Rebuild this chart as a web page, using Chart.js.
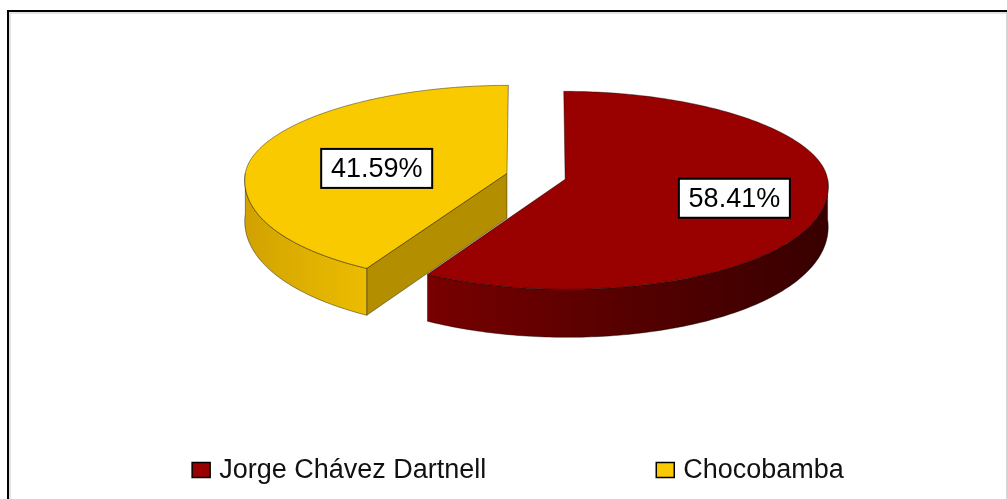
<!DOCTYPE html>
<html>
<head>
<meta charset="utf-8">
<script src="https://cdn.jsdelivr.net/npm/chart.js@4.4.0/dist/chart.umd.min.js"></script>
<style>
  html, body { margin: 0; padding: 0; background: #fff; }
  #wrap { width: 1007px; height: 499px; }
</style>
</head>
<body>
<div id="wrap"><canvas id="grafico" width="1007" height="499"></canvas></div>
<script>
const localidades = ['Jorge Chávez Dartnell', 'Chocobamba'];
const porcentajes = [58.41, 41.59];
const etiquetas = ['58.41%', '41.59%'];

// colores de cada tajada: cara superior, lado curvo, corte radial
const coresTopo = ['#990000', '#FACA00'];
const coresLado = [['#780000', '#560000', '#380000'], ['#d1a200', '#dfb000', '#ebbc00']];
const coresCorte = ['#5a0000', '#b38f00'];

// geometria del pastel 3D: mitad de atras mas chata que la de adelante (perspectiva)
const RX = 262, RY_ATRAS = 88, RY_FRENTE = 110, EXPLOSAO = 0.115, PERSP = 0.06;
const PROF_LADO = 40, PROF_FRENTE = 48, PROF_CENTRO = 45;
const raioEtiqueta = [0.66, 0.52];
const ajusteEtiquetaY = [0, 7];
const FONTE = '"Liberation Sans", Arial, sans-serif';

function ry(ang) { return Math.sin(ang) < 0 ? RY_ATRAS : RY_FRENTE; }
function prof(ang) { return PROF_LADO + (PROF_FRENTE - PROF_LADO) * Math.max(0, Math.sin(ang)); }

// punto de la tajada f, angulo ang, fraccion de radio r, hundido z
function ponto(f, ang, r, z) {
  const x0 = f.c.x + RX * r * Math.cos(ang);
  const y0 = f.c.y + ry(ang) * r * Math.sin(ang);
  const v = (y0 - f.arc.y) / RY_FRENTE;
  return [f.arc.x + (x0 - f.arc.x) * (1 + PERSP * v), y0 + (z || 0)];
}
function curva(ctx, f, a0, a1, fundo) {
  const n = Math.max(8, Math.ceil(Math.abs(a1 - a0) * 60));
  for (let t = 0; t <= n; t++) {
    const a = a0 + (a1 - a0) * t / n;
    const p = ponto(f, a, 1, fundo ? prof(a) : 0);
    ctx.lineTo(p[0], p[1]);
  }
}

function fatias(chart) {
  const meta = chart.getDatasetMeta(0);
  return meta.data.map((arc, i) => {
    const meio = (arc.startAngle + arc.endAngle) / 2;
    return {
      arc, i, meio,
      c: { x: arc.x + RX * EXPLOSAO * Math.cos(meio), y: arc.y + ry(meio) * EXPLOSAO * Math.sin(meio) }
    };
  });
}

function desenharLados(ctx, f) {
  const s = f.arc.startAngle, e = f.arc.endAngle;
  ctx.lineWidth = 0.8;
  ctx.strokeStyle = 'rgba(0,0,0,0.5)';
  ctx.lineJoin = 'round';

  // cortes radiales visibles
  [[s, s - Math.PI / 2], [e, e + Math.PI / 2]].forEach(([a, n]) => {
    if (Math.sin(n) < 0.05) return;
    const c0 = ponto(f, a, 0, 0), p = ponto(f, a, 1, 0);
    const p1 = ponto(f, a, 1, prof(a)), c1 = ponto(f, a, 0, PROF_CENTRO);
    ctx.beginPath();
    ctx.moveTo(c0[0], c0[1]);
    ctx.lineTo(p[0], p[1]);
    ctx.lineTo(p1[0], p1[1]);
    ctx.lineTo(c1[0], c1[1]);
    ctx.closePath();
    ctx.fillStyle = coresCorte[f.i];
    ctx.fill();
    ctx.stroke();
  });

  // lado curvo (solo la parte de adelante)
  [-2 * Math.PI, 0, 2 * Math.PI].forEach(k => {
    const a0 = Math.max(s, k), a1 = Math.min(e, k + Math.PI);
    if (a1 <= a0) return;
    const xs = [];
    for (let t = 0; t <= 40; t++) xs.push(ponto(f, a0 + (a1 - a0) * t / 40, 1, 0)[0]);
    const g = ctx.createLinearGradient(Math.min(...xs), 0, Math.max(...xs), 0);
    const st = coresLado[f.i];
    st.forEach((cor, j) => g.addColorStop(j / (st.length - 1), cor));
    ctx.beginPath();
    curva(ctx, f, a0, a1, false);
    curva(ctx, f, a1, a0, true);
    ctx.closePath();
    ctx.fillStyle = g;
    ctx.fill();
    ctx.stroke();
  });
}

function desenharTopo(ctx, f) {
  const arc = f.arc;
  const c0 = ponto(f, arc.startAngle, 0, 0);
  ctx.beginPath();
  ctx.moveTo(c0[0], c0[1]);
  curva(ctx, f, arc.startAngle, arc.endAngle, false);
  ctx.closePath();
  ctx.fillStyle = arc.options.backgroundColor;
  ctx.fill();
  ctx.lineWidth = 0.8;
  ctx.strokeStyle = 'rgba(0,0,0,0.5)';
  ctx.stroke();
}

const pastel3d = {
  id: 'pastel3d',
  beforeDraw(chart) {
    const ctx = chart.ctx, w = chart.width, h = chart.height;
    ctx.save();
    ctx.fillStyle = '#fff';
    ctx.fillRect(0, 0, w, h);
    ctx.fillStyle = '#e2e2e2';
    ctx.fillRect(9, 12, w - 9, 2);
    ctx.fillRect(9, 12, 2, h - 12);
    ctx.fillStyle = '#d6d6d6';
    ctx.fillRect(w - 1, 12, 1, h - 12);
    ctx.fillStyle = '#000';
    ctx.fillRect(7, 10, w - 7, 2);
    ctx.fillRect(7, 10, 2, h - 10);
    ctx.restore();
  },
  beforeDatasetDraw(chart) {
    const ctx = chart.ctx;
    const lista = fatias(chart).sort((a, b) => a.c.y - b.c.y);
    ctx.save();
    lista.forEach(f => { desenharLados(ctx, f); desenharTopo(ctx, f); });
    ctx.restore();
    return false;
  },
  afterDatasetsDraw(chart) {
    const ctx = chart.ctx;
    ctx.save();
    ctx.font = '27px ' + FONTE;
    ctx.textAlign = 'center';
    ctx.textBaseline = 'middle';
    fatias(chart).forEach(f => {
      const p = ponto(f, f.meio, raioEtiqueta[f.i], ajusteEtiquetaY[f.i]);
      const x = p[0], y = p[1];
      const bw = 111, bh = 39;
      ctx.fillStyle = '#fff';
      ctx.fillRect(x - bw / 2, y - bh / 2, bw, bh);
      ctx.lineWidth = 2;
      ctx.strokeStyle = '#000';
      ctx.strokeRect(x - bw / 2, y - bh / 2, bw, bh);
      ctx.fillStyle = '#000';
      ctx.fillText(etiquetas[f.i], x, y + 1);
    });
    ctx.restore();
  },
  afterDraw(chart) {
    // leyenda inferior
    const ctx = chart.ctx;
    const caixa = 18, alto = 15, folga = 9, entre = 170, yc = 470, centro = 518;
    ctx.save();
    ctx.font = '27px ' + FONTE;
    ctx.textBaseline = 'middle';
    const largos = localidades.map(t => caixa + folga + ctx.measureText(t).width);
    const total = largos.reduce((a, b) => a + b, 0) + entre * (largos.length - 1);
    let x = centro - total / 2;
    localidades.forEach((t, i) => {
      ctx.fillStyle = coresTopo[i];
      ctx.fillRect(x, yc - alto / 2, caixa, alto);
      ctx.lineWidth = 1.5;
      ctx.strokeStyle = '#000';
      ctx.strokeRect(x, yc - alto / 2, caixa, alto);
      ctx.fillStyle = '#111';
      ctx.fillText(t, x + caixa + folga, yc + 1);
      x += largos[i] + entre;
    });
    ctx.restore();
  }
};

const grafico = new Chart(document.getElementById('grafico').getContext('2d'), {
  type: 'pie',
  data: {
    labels: localidades,
    datasets: [{
      data: porcentajes,
      backgroundColor: coresTopo,
      borderWidth: 0,
      offset: 0,
      hoverOffset: 0
    }]
  },
  options: {
    responsive: false,
    animation: false,
    events: [],
    layout: { padding: { left: 100, right: 35, top: 6, bottom: 153 } },
    plugins: {
      legend: { display: false },
      tooltip: { enabled: false }
    }
  },
  plugins: [pastel3d]
});
</script>
</body>
</html>
